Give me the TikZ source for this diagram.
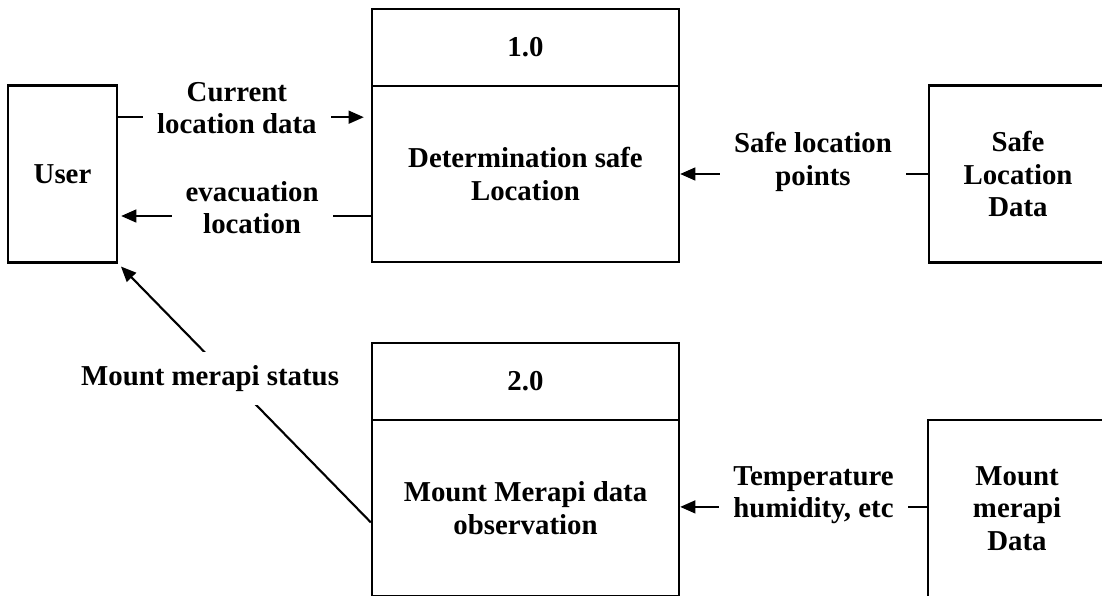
\documentclass[tikz,border=0pt]{standalone}
\usepackage{fontspec}
\setmainfont{Liberation Serif}
\usetikzlibrary{arrows.meta}
\tikzset{
  box/.style={draw=black, line width=1.6pt, inner sep=0pt, align=center, font=\bfseries\fontsize{20.5}{23}\selectfont},
  flow/.style={line width=1.5pt, -{Triangle[length=0.38cm, width=0.32cm]}},
  lbl/.style={fill=white, align=center, inner xsep=0.35cm, inner ysep=1pt, font=\bfseries\fontsize{20.5}{23}\selectfont},
}

\begin{document}
\begin{tikzpicture}[x=0.025cm, y=0.025cm]
\useasboundingbox (0,0) rectangle (1102,595);
\clip (0,0) rectangle (1102,595);
% entities and processes
\node[box, minimum width=2.725cm, minimum height=4.425cm] (user) at (62.5,421) {User};
\node[box, minimum width=7.675cm, minimum height=1.925cm] (p1num) at (525.5,547.5) {1.0};
\node[box, minimum width=7.675cm, minimum height=4.4cm] (p1) at (525.5,421) {Determination safe\\Location};
\node[box, minimum width=4.45cm, minimum height=4.425cm] (safe) at (1018,421) {Safe\\Location\\Data};
\node[box, minimum width=7.675cm, minimum height=1.925cm] (p2num) at (525.5,213.5) {2.0};
\node[box, minimum width=7.675cm, minimum height=4.4cm] (p2) at (525.5,87) {Mount Merapi data\\observation};
\node[box, minimum width=4.45cm, minimum height=4.425cm] (mdata) at (1017,86.5) {Mount\\merapi\\Data};
% data flows
\draw[flow, shorten >=0.175cm] ([yshift=1.42cm]user.east) -- node[lbl, xshift=-0.19cm, yshift=0.225cm] {Current\\location data} ([yshift=1.42cm]user.east -| p1.west);
\draw[flow, shorten >=0.075cm] ([yshift=-1.05cm]p1.west) -- node[lbl, xshift=0.19cm, yshift=0.21cm] {evacuation\\location} ([yshift=-1.05cm]p1.west -| user.east);
\draw[flow] (safe.west) -- node[lbl, xshift=0.225cm, yshift=0.3cm] {Safe location\\points} (safe.west -| p1.east);
\draw[flow] ([yshift=0.04cm]mdata.west) -- node[lbl, xshift=0.25cm, yshift=0.3cm] {Temperature\\humidity, etc} ([yshift=0.04cm]mdata.west -| p2.east);
\draw[flow, shorten >=0.1cm] ([yshift=-0.36cm]p2.west) -- node[lbl, pos=.557, xshift=-0.5cm, minimum height=1.325cm] {Mount merapi status} (user.south east);
\end{tikzpicture}
\end{document}
